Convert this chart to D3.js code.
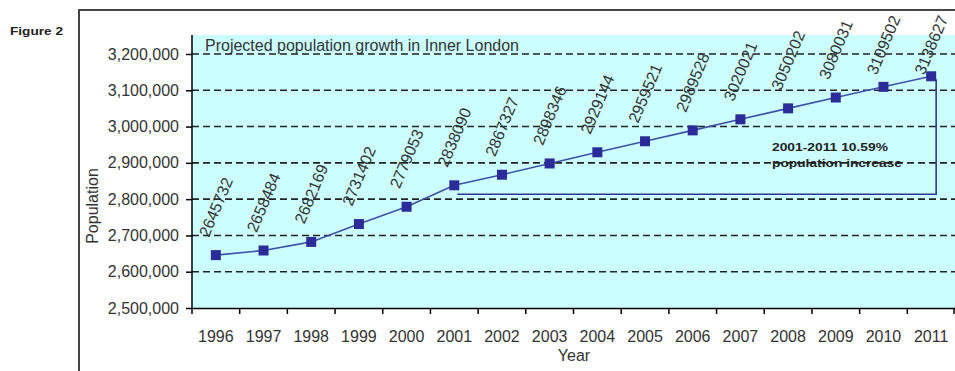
<!DOCTYPE html>
<html>
<head>
<meta charset="utf-8">
<script src="https://cdn.jsdelivr.net/npm/d3@7"></script>
<style>
  body { margin: 0; background: #fff; }
  text { font-family: "Liberation Sans", Arial, sans-serif; fill: #333; }
</style>
</head>
<body>
<script>
const width = 955;
const height = 371;

// data
const years = ["1996", "1997", "1998", "1999", "2000", "2001", "2002", "2003",
               "2004", "2005", "2006", "2007", "2008", "2009", "2010", "2011"];
const population = [2645732, 2658484, 2682169, 2731402, 2779053, 2838090, 2867327, 2898346,
                    2929144, 2959521, 2989528, 3020021, 3050202, 3080031, 3109502, 3138627];
const yTicks = [2500000, 2600000, 2700000, 2800000, 2900000, 3000000, 3100000, 3200000];
const noteLines = ["2001-2011 10.59%", "population increase"];

const plot = {left: 192, right: 955, top: 35, bottom: 308};

const svg = d3.select("body").append("svg")
    .attr("width", width)
    .attr("height", height);

const x = d3.scaleBand()
    .domain(years)
    .range([plot.left, plot.right]);

const y = d3.scaleLinear()
    .domain([2500000, 3200000])
    .range([plot.bottom, 54]);

const cx = d => x(d) + x.bandwidth() / 2;

// page frame
svg.append("path")
    .attr("d", "M79," + height + "V10H" + width)
    .attr("fill", "none")
    .attr("stroke", "#444")
    .attr("stroke-width", 2);

svg.append("text")
    .attr("x", 10).attr("y", 35)
    .attr("textLength", 53)
    .attr("lengthAdjust", "spacingAndGlyphs")
    .style("font-size", "11px").style("font-weight", "bold")
    .style("fill", "#222")
    .text("Figure 2");

// plot background
svg.append("rect")
    .attr("x", plot.left).attr("y", plot.top)
    .attr("width", plot.right - plot.left)
    .attr("height", plot.bottom - plot.top)
    .attr("fill", "#ccffff");

// dashed gridlines
svg.append("g")
  .selectAll("line")
  .data(yTicks.slice(1))
  .enter().append("line")
    .attr("x1", plot.left).attr("x2", plot.right)
    .attr("y1", d => y(d)).attr("y2", d => y(d))
    .attr("stroke", "#222")
    .attr("stroke-width", 1.6)
    .attr("stroke-dasharray", "7,4");

// axes
const yAxis = svg.append("g")
    .attr("transform", "translate(" + plot.left + ",0)")
    .call(d3.axisLeft(y).tickValues(yTicks).tickSize(6).tickPadding(7)
          .tickFormat(d3.format(",")));
yAxis.select(".domain").remove();
yAxis.append("line")
    .attr("y1", plot.top).attr("y2", plot.bottom)
    .attr("stroke", "#000").attr("stroke-width", 1.5);

const xAxis = svg.append("g")
    .attr("transform", "translate(0," + plot.bottom + ")")
    .call(d3.axisBottom(x).tickSize(0).tickPadding(34));
xAxis.select(".domain").attr("stroke", "#000").attr("stroke-width", 1.5);
xAxis.selectAll(".tick text").attr("dy", "0");

// category boundary ticks
svg.append("g")
  .selectAll("line")
  .data(years.concat(["end"]))
  .enter().append("line")
    .attr("x1", d => d === "end" ? plot.right - 1 : x(d))
    .attr("x2", d => d === "end" ? plot.right - 1 : x(d))
    .attr("y1", plot.bottom).attr("y2", plot.bottom + 6)
    .attr("stroke", "#000").attr("stroke-width", 1.5);

svg.selectAll(".tick text")
    .style("font-size", "16px")
    .style("font-family", "'Liberation Sans', Arial, sans-serif")
    .style("fill", "#333");
yAxis.selectAll(".tick line").attr("stroke", "#000").attr("stroke-width", 1.5);

// axis titles
svg.append("text")
    .attr("transform", "translate(98,206) rotate(-90)")
    .attr("text-anchor", "middle")
    .style("font-size", "16px")
    .text("Population");

svg.append("text")
    .attr("x", 574).attr("y", 361)
    .attr("text-anchor", "middle")
    .style("font-size", "16px")
    .text("Year");

// chart title
svg.append("text")
    .attr("x", 205).attr("y", 51)
    .style("font-size", "16px")
    .text("Projected population growth in Inner London");

// bracket for the annotation
const i0 = years.indexOf("2001");
const i1 = years.indexOf("2011");
const bx0 = cx(years[i0]) + 3;
const bx1 = cx(years[i1]) + 5;
const by = y(population[i0]) + 9;
svg.append("path")
    .attr("d", "M" + bx0 + "," + by + "H" + bx1 + "V" + (y(population[i1]) + 3))
    .attr("fill", "none")
    .attr("stroke", "#333399")
    .attr("stroke-width", 1.6);

// series line
svg.append("path")
    .datum(population)
    .attr("d", d3.line()
        .x((d, i) => cx(years[i]))
        .y(d => y(d)))
    .attr("fill", "none")
    .attr("stroke", "#4050a8")
    .attr("stroke-width", 1.6);

// markers
svg.append("g")
  .selectAll("rect")
  .data(population)
  .enter().append("rect")
    .attr("x", (d, i) => cx(years[i]) - 5)
    .attr("y", d => y(d) - 5)
    .attr("width", 10).attr("height", 10)
    .attr("fill", "#2b2b9a");

// rotated value labels (kept inside the frame, like the original)
svg.append("g")
  .selectAll("text")
  .data(population)
  .enter().append("text")
    .attr("transform", (d, i) =>
        "translate(" + cx(years[i]) + "," + Math.max(y(d) - 48, 45) + ") rotate(-67)")
    .attr("text-anchor", "middle")
    .attr("dy", "0.35em")
    .style("font-size", "16px")
    .text(d => d);

// annotation text
svg.append("g")
  .selectAll("text")
  .data(noteLines)
  .enter().append("text")
    .attr("x", 772)
    .attr("y", (d, i) => 151 + i * 16)
    .attr("textLength", (d, i) => i === 0 ? 116 : 130)
    .attr("lengthAdjust", "spacingAndGlyphs")
    .style("font-size", "11px")
    .style("font-weight", "bold")
    .style("fill", "#222")
    .text(d => d);
</script>
</body>
</html>
